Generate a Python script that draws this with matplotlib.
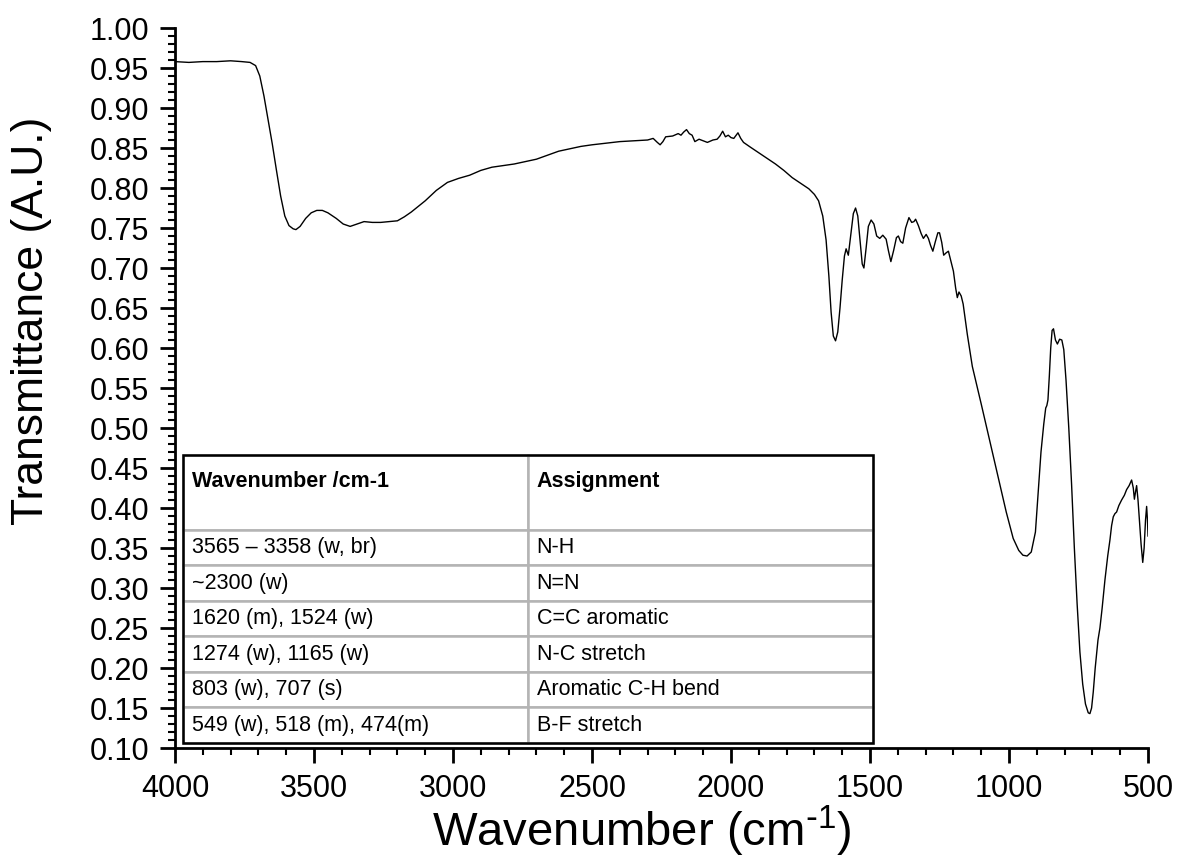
import matplotlib
matplotlib.use("Agg")
import matplotlib.pyplot as plt
from matplotlib.patches import Rectangle
from matplotlib.ticker import MultipleLocator

plt.rcParams.update({
    "font.family": ["Liberation Sans", "DejaVu Sans"],
    "mathtext.default": "regular",
    "axes.linewidth": 2.0,
})

# FTIR spectrum, read as (wavenumber / cm-1, transmittance)
wavenumber = [
    4000, 3950, 3900, 3850, 3800, 3760, 3730, 3710, 3695, 3680, 3665, 3650,
    3635, 3620, 3605, 3590, 3575, 3565, 3550, 3530, 3510, 3490, 3470, 3450,
    3420, 3395, 3370, 3345, 3320, 3290, 3260, 3230, 3200, 3175, 3150, 3100,
    3060, 3020, 2980, 2940, 2900, 2860, 2820, 2780, 2740, 2700, 2660, 2620,
    2580, 2540, 2500, 2450, 2400, 2350, 2300, 2280, 2265, 2255, 2245, 2235,
    2210, 2190, 2180, 2170, 2160, 2150, 2140, 2130, 2115, 2100, 2085, 2065,
    2050, 2040, 2030, 2020, 2010, 2000, 1990, 1975, 1965, 1955, 1930, 1900,
    1870, 1840, 1810, 1780, 1750, 1720, 1700, 1685, 1670, 1658, 1648, 1640,
    1632, 1624, 1616, 1608, 1600, 1592, 1586, 1578, 1568, 1560, 1552, 1544,
    1536, 1528, 1522, 1514, 1506, 1496, 1486, 1476, 1465, 1454, 1442, 1434,
    1425, 1415, 1405, 1398, 1390, 1382, 1372, 1360, 1350, 1342, 1336, 1326,
    1316, 1308, 1298, 1290, 1282, 1274, 1265, 1256, 1250, 1242, 1235, 1226,
    1218, 1210, 1200, 1192, 1186, 1180, 1172, 1165, 1150, 1132, 1100, 1070,
    1040, 1010, 985, 965, 950, 935, 920, 905, 895, 885, 875, 868,
    864, 860, 855, 850, 845, 840, 833, 826, 818, 810, 803, 795,
    785, 775, 765, 755, 745, 735, 725, 715, 709, 703, 697, 690,
    680, 673, 665, 655, 645, 637, 631, 625, 619, 613, 605, 595,
    585, 577, 568, 559, 553, 549, 545, 541, 536, 530, 525, 519,
    514, 509, 505, 502, 500,
]
transmittance = [
    0.958, 0.957, 0.958, 0.958, 0.959, 0.958, 0.957, 0.953, 0.940, 0.915, 0.885, 0.855,
    0.822, 0.790, 0.765, 0.753, 0.749, 0.748, 0.752, 0.762, 0.769, 0.772, 0.772, 0.769,
    0.762, 0.755, 0.752, 0.755, 0.758, 0.757, 0.757, 0.758, 0.759, 0.764, 0.770, 0.784,
    0.797, 0.807, 0.812, 0.816, 0.822, 0.826, 0.828, 0.830, 0.833, 0.836, 0.841, 0.846,
    0.849, 0.852, 0.854, 0.856, 0.858, 0.859, 0.860, 0.862, 0.857, 0.854, 0.858, 0.864,
    0.865, 0.868, 0.866, 0.870, 0.873, 0.868, 0.866, 0.858, 0.861, 0.859, 0.857, 0.860,
    0.861, 0.865, 0.871, 0.864, 0.866, 0.863, 0.862, 0.869, 0.862, 0.857, 0.851, 0.844,
    0.837, 0.830, 0.822, 0.813, 0.806, 0.799, 0.792, 0.784, 0.765, 0.735, 0.690, 0.645,
    0.615, 0.609, 0.620, 0.650, 0.685, 0.715, 0.724, 0.716, 0.745, 0.768, 0.775, 0.765,
    0.735, 0.705, 0.700, 0.725, 0.752, 0.760, 0.755, 0.740, 0.737, 0.741, 0.736, 0.722,
    0.708, 0.722, 0.738, 0.740, 0.733, 0.731, 0.750, 0.763, 0.757, 0.758, 0.761, 0.753,
    0.743, 0.737, 0.742, 0.737, 0.728, 0.721, 0.733, 0.744, 0.744, 0.732, 0.716, 0.719,
    0.721, 0.710, 0.696, 0.675, 0.663, 0.670, 0.665, 0.655, 0.617, 0.577, 0.530, 0.485,
    0.440, 0.395, 0.362, 0.347, 0.341, 0.340, 0.345, 0.370, 0.420, 0.470, 0.505, 0.525,
    0.528, 0.535, 0.565, 0.600, 0.622, 0.624, 0.610, 0.605, 0.611, 0.610, 0.598, 0.560,
    0.500, 0.430, 0.350, 0.280, 0.220, 0.180, 0.155, 0.144, 0.143, 0.150, 0.170, 0.200,
    0.235, 0.250, 0.275, 0.310, 0.340, 0.360, 0.378, 0.389, 0.393, 0.395, 0.403, 0.410,
    0.416, 0.423, 0.428, 0.435, 0.425, 0.411, 0.420, 0.428, 0.410, 0.380, 0.355, 0.332,
    0.350, 0.385, 0.402, 0.385, 0.365,
]

# band assignment table
table_header = ["Wavenumber /cm-1", "Assignment"]
band_positions = [
    "3565 \u2013 3358 (w, br)",
    "~2300 (w)",
    "1620 (m), 1524 (w)",
    "1274 (w), 1165 (w)",
    "803 (w), 707 (s)",
    "549 (w), 518 (m), 474(m)",
]
band_assignments = [
    "N-H",
    "N=N",
    "C=C aromatic",
    "N-C stretch",
    "Aromatic C-H bend",
    "B-F stretch",
]

fig = plt.figure(figsize=(11.8, 8.59), dpi=100)
ax = fig.add_axes([0.1483, 0.1292, 0.8246, 0.8382])

ax.plot(wavenumber, transmittance, "-", color="black", lw=1.0)

ax.set_xlim(4000, 500)
ax.set_ylim(0.10, 1.00)
ax.xaxis.set_major_locator(MultipleLocator(500))
ax.xaxis.set_minor_locator(MultipleLocator(100))
ax.yaxis.set_major_locator(MultipleLocator(0.05))
ax.yaxis.set_minor_locator(MultipleLocator(0.01))
ax.yaxis.set_major_formatter(plt.FormatStrFormatter("%.2f"))
ax.tick_params(which="major", direction="out", length=10.5, width=2.0,
               labelsize=22, pad=8)
ax.tick_params(which="minor", direction="out", length=5, width=1.5)
ax.spines["top"].set_visible(False)
ax.spines["right"].set_visible(False)

ax.set_xlabel(r"Wavenumber (cm$^{\text{-}1}$)", fontsize=34, labelpad=0, x=0.48)
ax.set_ylabel("Transmittance (A.U.)", fontsize=32, labelpad=27, y=0.594)

# table of band assignments in the lower left corner
tx0, ty0, tw, th = 0.0082, 0.0069, 0.7092, 0.4000
cell_text = [[p, a] for p, a in zip(band_positions, band_assignments)]
tab = ax.table(cellText=[["", ""]] + cell_text, cellLoc="left",
               colWidths=[0.5, 0.5], bbox=[tx0, ty0, tw, th])
tab.auto_set_font_size(False)
tab.set_fontsize(15.5)
for (r, c), cell in tab.get_celld().items():
    cell.set_edgecolor("#b4b4b4")
    cell.set_linewidth(1.8)
    cell.PAD = 0.025
    cell.set_height(2.1 if r == 0 else 1.0)
ax.add_patch(Rectangle((tx0, ty0), tw, th, transform=ax.transAxes,
                       fill=False, edgecolor="black", lw=1.8, zorder=5))
for i, label in enumerate(table_header):
    ax.text(tx0 + tw * (0.5 * i + 0.0125), ty0 + th - 0.022, label,
            transform=ax.transAxes, ha="left", va="top", fontsize=15.5,
            fontweight="bold", zorder=6)

fig.savefig("out.png", dpi=100)
